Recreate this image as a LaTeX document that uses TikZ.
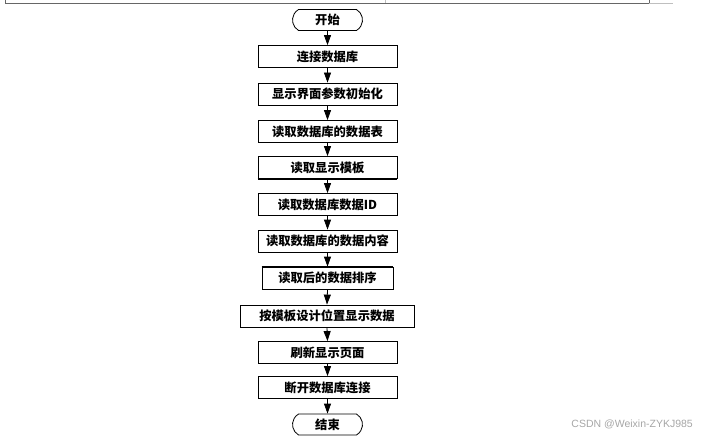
\documentclass[tikz,border=0pt]{standalone}
\usepackage{fontspec}
\newfontfamily\cjk{Noto Sans CJK SC}
\newfontfamily\wm{Liberation Sans}
\usetikzlibrary{arrows.meta,shapes.misc}
\begin{document}
\begin{tikzpicture}[x=1pt,y=-1pt,
  proc/.style={draw, line width=0.8pt, minimum height=22pt, minimum width=139pt, inner sep=0pt,
    font=\cjk\bfseries\fontsize{12.3}{13}\selectfont, text=black},
  term/.style={proc, rounded rectangle, rounded rectangle arc length=120, minimum width=70pt, minimum height=21pt},
  flow/.style={-{Triangle[length=10pt,width=7pt]}, line width=0.8pt},
  frame/.style={draw=black!60, line width=1pt},
  faint/.style={draw=black!25, line width=0.8pt}]
\useasboundingbox (0,0) rectangle (711,441);
% top frame remnant
\draw[frame] (5,0) -- (5,4) -- (649,4) -- (649,0);
\draw[faint] (649,3.5) -- (673,3.5);
\draw[faint] (385,0) -- (385,3);
% nodes
\node[term] (s) at (327.5,20) {开始};
\node[proc] (b1) at (327.5,56.5) {连接数据库};
\node[proc] (b2) at (327.5,94) {显示界面参数初始化};
\node[proc] (b3) at (327.5,131.5) {读取数据库的数据表};
\node[proc] (b4) at (327.5,167.5) {读取显示模板};
\node[proc] (b5) at (327.5,204.5) {读取数据库数据ID};
\node[proc] (b6) at (327.5,241) {读取数据库的数据内容};
\node[proc, minimum width=131pt] (b7) at (327.5,278) {读取后的数据排序};
\node[proc, minimum width=174pt] (b8) at (327,316) {按模板设计位置显示数据};
\node[proc] (b9) at (327.5,352.5) {刷新显示页面};
\node[proc] (b10) at (327.5,387.5) {断开数据库连接};
\node[term] (e) at (327.5,424.5) {结束};
% heavier edges
\draw[line width=1.6pt] (b4.south west) -- (b4.south east);
\draw[line width=1.6pt] (b7.north west) -- (b7.north east);
% connectors
\foreach \a/\b in {s/b1,b1/b2,b2/b3,b3/b4,b4/b5,b5/b6,b6/b7,b7/b8,b8/b9,b9/b10,b10/e}
  \draw[flow] (\a.south) -- (\b.north);
% watermark
\node[font=\wm\fontsize{10.5}{11}\selectfont, text=black!35, anchor=east, inner sep=0pt] (w) at (693,424) {CSDN @Weixin-ZYKJ985};
\end{tikzpicture}
\end{document}
